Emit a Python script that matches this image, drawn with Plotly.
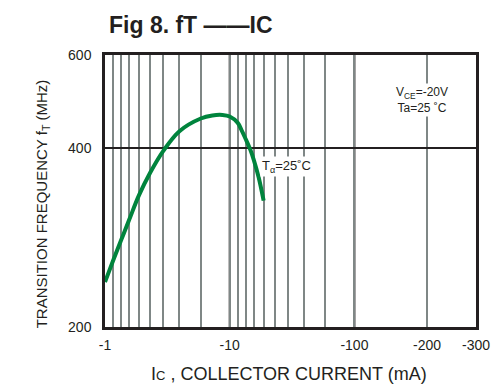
import numpy as np
import plotly.graph_objects as go

# ---- data (collector current magnitude in mA, fT in MHz)
ic_ma = [1, 2, 3, 4, 5, 6, 7, 8, 9, 9.4, 9.75, 10, 20, 24.9, 30, 35.9, 40, 45, 50]
ft_mhz = [235, 254, 275, 298, 329, 361, 396, 430, 454, 460, 461, 458, 446, 432, 416, 397, 381, 354, 322]

x_tick_values = [1, 10, 100, 200, 300]
x_tick_labels = ["-1", "-10", "-100", "-200", "-300"]
y_tick_values = [200, 400, 600]
y_tick_labels = ["200", "400", "600"]

# ---- the chart's own (non-standard) grid scales
DEC_FRAC = [0, 0.063, 0.128, 0.193, 0.272, 0.362, 0.469, 0.597, 0.768, 1.0]
IC_GRID = list(range(1, 11)) + list(range(20, 101, 10)) + [200, 300]
U_GRID = DEC_FRAC + [1 + f for f in DEC_FRAC[1:]] + [2.582, 2.975]
FT_OFFSET = 60  # the printed fT axis behaves like log(fT - 60)


def xs(v):
    return np.interp(v, IC_GRID, U_GRID)


def ys(v):
    return np.log10(np.asarray(v, dtype=float) - FT_OFFSET)


DARK = "#231f20"
GRAY = "#7f8786"
GREEN = "#00843d"
FONT = "Liberation Sans, Arial, sans-serif"

minor_vals = [float(xs(v)) for v in IC_GRID if v not in x_tick_values]

fig = go.Figure()
fig.add_trace(go.Scatter(
    x=xs(ic_ma), y=ys(ft_mhz), mode="lines",
    line=dict(color=GREEN, width=4, shape="spline", smoothing=1.0),
    hoverinfo="skip", showlegend=False,
))

# dark decade lines
for v in [10, 100]:
    fig.add_shape(type="line", xref="x", yref="paper", x0=float(xs(v)), x1=float(xs(v)), y0=0, y1=1,
                  line=dict(color=DARK, width=2), layer="below")

fig.update_xaxes(
    range=[float(xs(1)), float(xs(300))], tickmode="array",
    tickvals=[float(xs(v)) for v in x_tick_values], ticktext=x_tick_labels,
    showgrid=True, gridcolor=GRAY, gridwidth=1.6,
    minor=dict(tickmode="array", tickvals=minor_vals, showgrid=True, gridcolor=GRAY, gridwidth=1.6, ticks=""),
    showline=True, mirror=True, linecolor=DARK, linewidth=2.5,
    ticks="", ticklabelstandoff=3, zeroline=False,
    tickfont=dict(family=FONT, size=14, color=DARK),
)
fig.update_yaxes(
    range=[float(ys(200)), float(ys(600))], tickmode="array",
    tickvals=[float(ys(v)) for v in y_tick_values], ticktext=y_tick_labels,
    showgrid=True, gridcolor=DARK, gridwidth=1.6,
    showline=True, mirror=True, linecolor=DARK, linewidth=2.5,
    ticks="", ticklabelstandoff=8, zeroline=False,
    tickfont=dict(family=FONT, size=14, color=DARK),
)

annotations = [
    dict(text="<b>Fig 8. fT ——IC</b>", x=0.232, y=1.11, xref="paper", yref="paper",
         showarrow=False, font=dict(family=FONT, size=23, color=DARK), xanchor="center", yanchor="middle"),
    dict(text="I<span style='font-size:13px'>C</span> , COLLECTOR CURRENT (mA)", x=0.495, y=-0.174,
         xref="paper", yref="paper", showarrow=False,
         font=dict(family=FONT, size=18, color=DARK), xanchor="center", yanchor="middle"),
    dict(text="TRANSITION FREQUENCY f<sub>T</sub> (MHz)", x=-0.169, y=0.452, textangle=-90,
         xref="paper", yref="paper", showarrow=False,
         font=dict(family=FONT, size=15, color=DARK), xanchor="center", yanchor="middle"),
    dict(text="V<sub>CE</sub>=-20V<br>Ta=25 ˚C", x=0.854, y=0.835,
         xref="paper", yref="paper", showarrow=False, bgcolor="white", align="center",
         font=dict(family=FONT, size=12, color=DARK), xanchor="center", yanchor="middle"),
    dict(text="T<sub>α</sub>=25˚C", x=0.49, y=0.59,
         xref="paper", yref="paper", showarrow=False, bgcolor="white",
         font=dict(family=FONT, size=13, color=DARK), xanchor="center", yanchor="middle"),
]

fig.update_layout(
    width=502, height=384, autosize=False,
    margin=dict(l=105, r=19, t=55, b=57),
    paper_bgcolor="white", plot_bgcolor="white",
    annotations=annotations,
)

fig.write_html("out.html")
